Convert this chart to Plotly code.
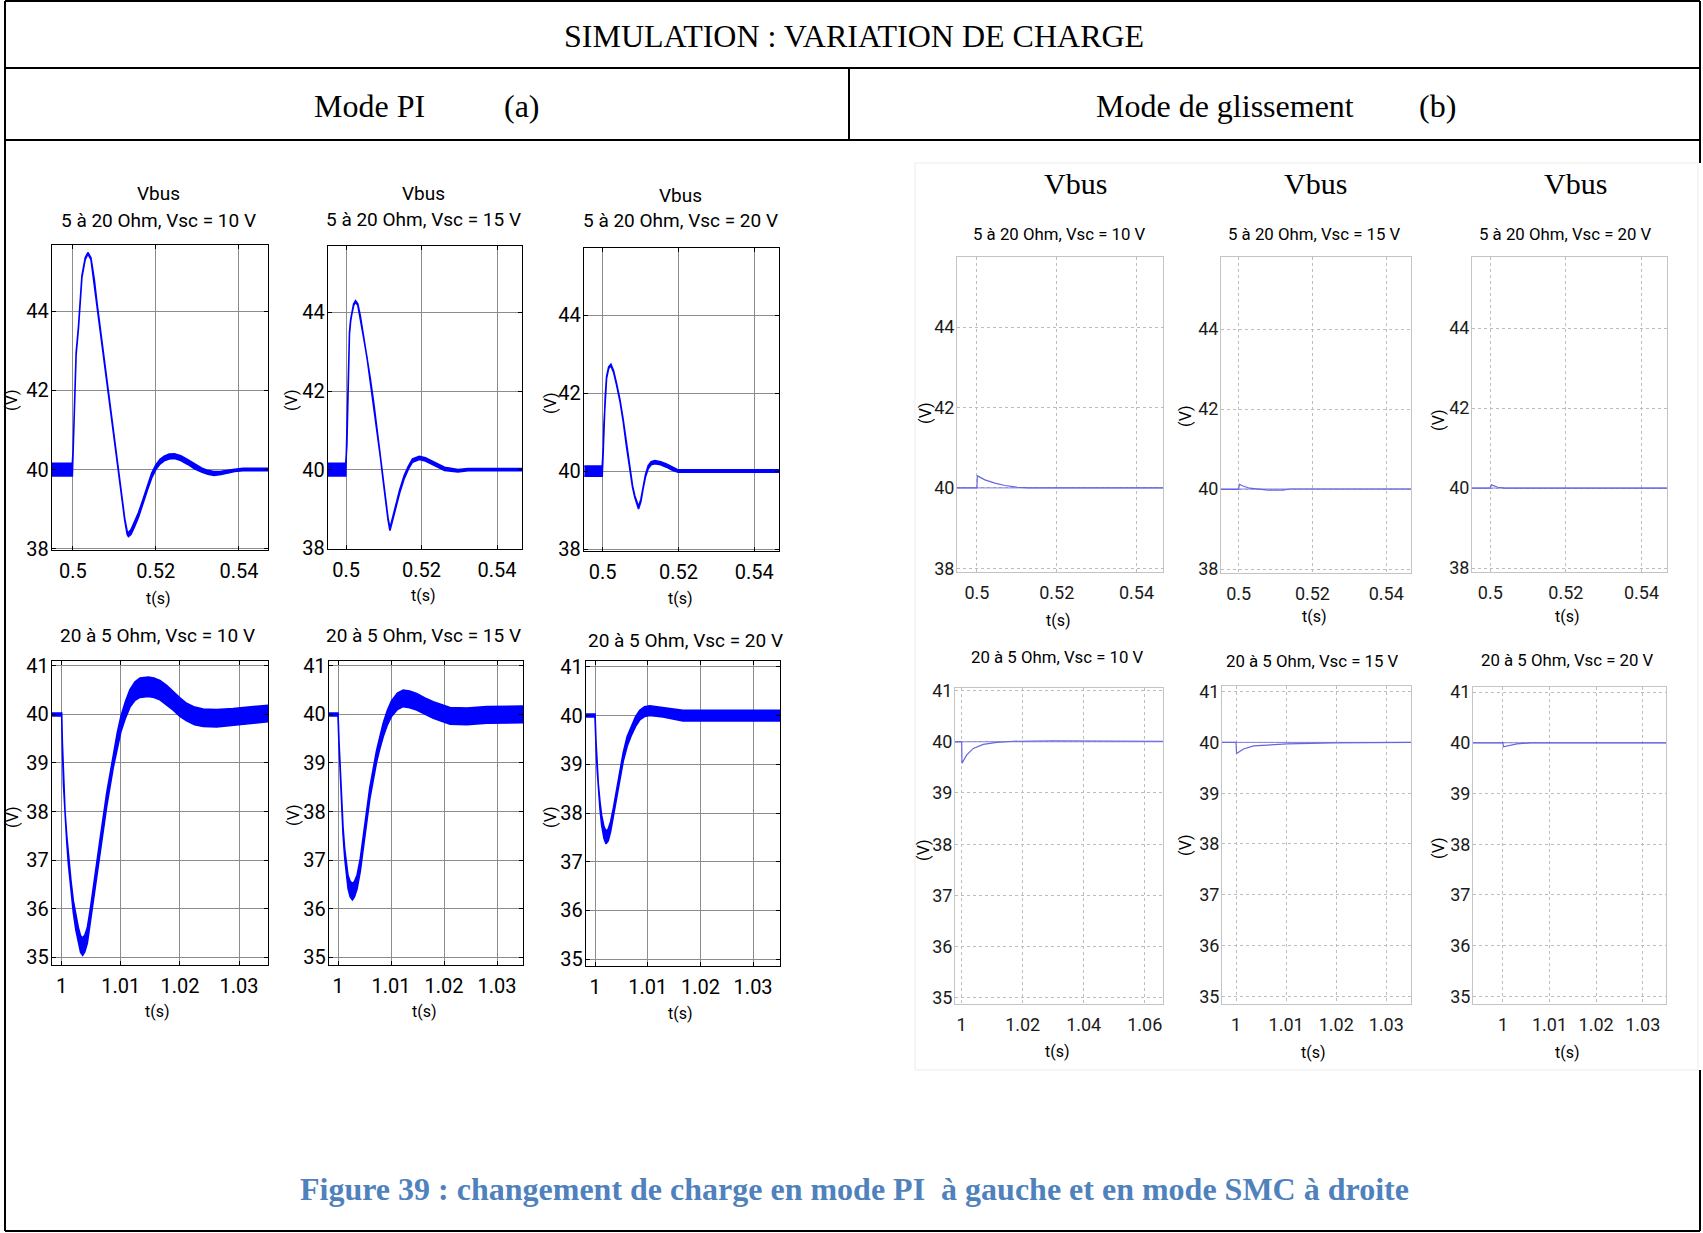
import plotly.graph_objects as go

W, H = 1703, 1233

# ---------------- DATA ----------------
# PI mode, load step 5 -> 20 Ohm (t in s, Vbus centre in V, ripple half-band in V)
pi_a_t10 = [0.495, 0.4999, 0.5001, 0.50032, 0.50081, 0.50138, 0.50178, 0.5022, 0.503, 0.50364, 0.50437,
            0.50518, 0.50583, 0.507, 0.509, 0.511, 0.5125, 0.5131, 0.5134, 0.514, 0.5148, 0.5158,
            0.5168, 0.518, 0.519, 0.52, 0.521, 0.522, 0.5232, 0.5245, 0.526, 0.5277, 0.5293,
            0.531, 0.5325, 0.534, 0.5357, 0.5374, 0.539, 0.541, 0.547]
pi_a_v10 = [40.0, 40.0, 40.5, 41.32, 42.93, 43.6, 44.19, 44.87, 45.33, 45.46, 45.33,
            44.78, 44.19, 43.24, 41.6, 39.99, 38.75, 38.4, 38.36, 38.42, 38.6, 38.85,
            39.15, 39.55, 39.85, 40.06, 40.2, 40.28, 40.33, 40.34, 40.29, 40.19, 40.08,
            39.99, 39.93, 39.9, 39.92, 39.95, 39.98, 40.0, 40.0]
pi_a_w10 = [0.16, 0.16, 0.02, 0.02, 0.02, 0.02, 0.02, 0.02, 0.02, 0.02, 0.02,
            0.02, 0.02, 0.02, 0.02, 0.02, 0.02, 0.04, 0.05, 0.06, 0.06, 0.06,
            0.06, 0.06, 0.06, 0.06, 0.06, 0.06, 0.06, 0.06, 0.06, 0.06, 0.06,
            0.05, 0.05, 0.05, 0.04, 0.04, 0.03, 0.03, 0.03]

pi_a_t15 = [0.4952, 0.4999, 0.5002, 0.50045, 0.50065, 0.50089, 0.5012, 0.50152, 0.502, 0.5025, 0.5031,
            0.50375, 0.5046, 0.50554, 0.5064, 0.50732, 0.5082, 0.50911, 0.5098, 0.51045, 0.5111,
            0.51161, 0.5121, 0.51313, 0.5142, 0.51536, 0.5165, 0.51759, 0.51938, 0.521, 0.5225,
            0.5243, 0.52607, 0.52965, 0.53232, 0.5467]
pi_a_v15 = [40.0, 40.0, 40.6, 41.51, 42.6, 43.47, 43.8, 43.98, 44.2, 44.28, 44.2,
            43.9, 43.4, 42.87, 42.3, 41.68, 41.0, 40.32, 39.75, 39.21, 38.75,
            38.48, 38.65, 39.04, 39.45, 39.8, 40.05, 40.23, 40.3, 40.26, 40.19,
            40.1, 40.02, 39.97, 40.0, 40.0]
pi_a_w15 = [0.16, 0.16, 0.02, 0.02, 0.02, 0.02, 0.02, 0.02, 0.02, 0.02, 0.02,
            0.02, 0.02, 0.02, 0.02, 0.02, 0.02, 0.02, 0.02, 0.02, 0.02,
            0.03, 0.04, 0.04, 0.04, 0.04, 0.04, 0.04, 0.04, 0.04, 0.04,
            0.04, 0.04, 0.03, 0.03, 0.03]

pi_a_t20 = [0.4952, 0.4999, 0.5002, 0.50035, 0.5007, 0.50105, 0.5016, 0.50219, 0.5029, 0.50368,
            0.5046, 0.50544, 0.5063, 0.50719, 0.5079, 0.50851, 0.50947, 0.5101, 0.5107, 0.5113,
            0.51202, 0.5128, 0.51377, 0.5153, 0.51684, 0.5184, 0.51991, 0.5466]
pi_a_v20 = [40.0, 40.0, 40.6, 41.21, 41.9, 42.4, 42.65, 42.72, 42.55, 42.23,
            41.8, 41.29, 40.65, 40.02, 39.6, 39.34, 39.06, 39.25, 39.59, 39.88,
            40.1, 40.2, 40.23, 40.2, 40.14, 40.06, 40.0, 40.0]
pi_a_w20 = [0.13, 0.13, 0.02, 0.02, 0.02, 0.02, 0.02, 0.02, 0.02, 0.02,
            0.02, 0.02, 0.02, 0.02, 0.02, 0.02, 0.03, 0.03, 0.03, 0.03,
            0.04, 0.04, 0.04, 0.04, 0.04, 0.04, 0.03, 0.03]

# PI mode, load step 20 -> 5 Ohm
pi_b_t10 = [0.99836, 1.0, 1.00011, 1.0003, 1.00056, 1.00085, 1.00113, 1.00155, 1.00197, 1.0024,
            1.00282, 1.0032, 1.00355, 1.0039, 1.00434, 1.00485, 1.00535, 1.00648, 1.00761, 1.00873,
            1.0094, 1.01003, 1.0108, 1.01155, 1.0124, 1.01324, 1.01465, 1.0156, 1.01662, 1.01775,
            1.01887, 1.02, 1.02113, 1.0225, 1.02394, 1.0262, 1.02901, 1.0324, 1.0349]
pi_b_v10 = [40.0, 40.0, 39.4, 38.6, 37.96, 37.45, 37.0, 36.5, 36.04, 35.7,
            35.45, 35.27, 35.22, 35.28, 35.45, 35.85, 36.32, 37.28, 38.24, 39.06,
            39.47, 39.81, 40.1, 40.33, 40.48, 40.55, 40.57, 40.55, 40.5, 40.4,
            40.28, 40.15, 40.05, 39.97, 39.93, 39.92, 39.95, 39.99, 40.02]
pi_b_w10 = [0.03, 0.03, 0.03, 0.04, 0.05, 0.06, 0.08, 0.1, 0.12, 0.14,
            0.16, 0.17, 0.18, 0.17, 0.16, 0.15, 0.14, 0.14, 0.14, 0.15,
            0.15, 0.16, 0.17, 0.18, 0.19, 0.2, 0.2, 0.2, 0.2, 0.2,
            0.19, 0.19, 0.18, 0.18, 0.18, 0.18, 0.17, 0.17, 0.17]

pi_b_t15 = [0.9983, 1.0, 1.00019, 1.0004, 1.00063, 1.00095, 1.00126, 1.00158, 1.00189, 1.0023,
            1.00271, 1.0031, 1.0036, 1.0042, 1.00473, 1.00599, 1.00726, 1.0079, 1.00852, 1.0093,
            1.01009, 1.0112, 1.0123, 1.0135, 1.01483, 1.0164, 1.01798, 1.02114, 1.02429, 1.02807,
            1.0349]
pi_b_v15 = [40.0, 40.0, 39.4, 38.8, 38.24, 37.6, 37.14, 36.8, 36.55, 36.4,
            36.35, 36.4, 36.55, 36.9, 37.35, 38.37, 39.13, 39.43, 39.68, 39.93,
            40.12, 40.27, 40.33, 40.31, 40.26, 40.17, 40.09, 39.97, 39.96, 39.99,
            40.0]
pi_b_w15 = [0.03, 0.03, 0.03, 0.04, 0.05, 0.07, 0.09, 0.11, 0.13, 0.16,
            0.17, 0.16, 0.14, 0.13, 0.12, 0.12, 0.12, 0.13, 0.14, 0.15,
            0.16, 0.17, 0.17, 0.17, 0.17, 0.17, 0.17, 0.17, 0.17, 0.17,
            0.17]

pi_b_t20 = [0.99829, 1.0, 1.00019, 1.0004, 1.00063, 1.00095, 1.00126, 1.0017, 1.00208, 1.0025,
            1.00296, 1.0035, 1.00409, 1.00535, 1.0061, 1.00692, 1.0077, 1.00849, 1.0094, 1.01038,
            1.01289, 1.01667, 1.0351]
pi_b_v20 = [40.0, 40.0, 39.43, 38.95, 38.54, 38.15, 37.85, 37.6, 37.5, 37.55,
            37.72, 38.02, 38.4, 39.15, 39.47, 39.7, 39.88, 40.01, 40.08, 40.1,
            40.07, 40.0, 40.0]
pi_b_w20 = [0.03, 0.03, 0.03, 0.04, 0.05, 0.07, 0.1, 0.12, 0.13, 0.12,
            0.1, 0.09, 0.09, 0.09, 0.1, 0.1, 0.1, 0.1, 0.1, 0.1,
            0.1, 0.11, 0.11]

# Sliding mode (SMC)
smc_a_t10 = [0.495, 0.5, 0.5001, 0.502, 0.5045, 0.507, 0.51, 0.513, 0.5467]
smc_a_v10 = [40.0, 40.0, 40.3, 40.2, 40.12, 40.06, 40.02, 40.0, 40.0]
smc_a_t15 = [0.4952, 0.5, 0.5002, 0.501, 0.503, 0.506, 0.508, 0.512, 0.514, 0.5467]
smc_a_v15 = [39.99, 39.99, 40.12, 40.08, 40.02, 40.0, 39.97, 39.97, 40.0, 40.0]
smc_a_t20 = [0.4952, 0.5, 0.5003, 0.502, 0.504, 0.5467]
smc_a_v20 = [40.0, 40.0, 40.08, 40.02, 40.0, 40.0]
smc_b_t10 = [0.9978, 1.0, 1.0001, 1.0016, 1.0038, 1.0071, 1.0115, 1.017, 1.03, 1.066]
smc_b_v10 = [40.0, 40.0, 39.58, 39.74, 39.87, 39.95, 39.99, 40.01, 40.02, 40.01]
smc_b_t15 = [0.9972, 1.0, 1.0001, 1.0015, 1.0035, 1.0062, 1.0102, 1.0195, 1.0349]
smc_b_v15 = [40.0, 40.0, 39.78, 39.87, 39.93, 39.95, 39.97, 39.99, 40.0]
smc_b_t20 = [0.9936, 1.0, 1.0001, 1.001, 1.003, 1.006, 1.035]
smc_b_v20 = [40.0, 40.0, 39.92, 39.94, 39.98, 40.0, 40.0]
vbus_ref = 40.0

# tick labels
ticks_x_a = [0.5, 0.52, 0.54]
ticks_x_b = [1, 1.01, 1.02, 1.03]
ticks_x_b_smc10 = [1, 1.02, 1.04, 1.06]
ticks_y_a = [38, 40, 42, 44]
ticks_y_b = [35, 36, 37, 38, 39, 40, 41]

titles_a = ["5 à 20 Ohm, Vsc = 10 V", "5 à 20 Ohm, Vsc = 15 V", "5 à 20 Ohm, Vsc = 20 V"]
titles_b = ["20 à 5 Ohm, Vsc = 10 V", "20 à 5 Ohm, Vsc = 15 V", "20 à 5 Ohm, Vsc = 20 V"]

# ---------------- LAYOUT HELPERS ----------------
SANS = "Roboto, Liberation Sans, Arial, sans-serif"
SERIF = "Liberation Serif, Times New Roman, serif"


def fx(x):
    return x / W


def fy(y):
    return 1 - y / H


def fmt(v):
    return "%g" % v


fig = go.Figure()
annotations = []
shapes = []

panels = [
    ("pi", (52, 268, 245, 550), [0.4950, 0.5470], [37.97, 45.67], ticks_x_a, ticks_y_a, (pi_a_t10, pi_a_v10, pi_a_w10)),
    ("pi", (328, 522, 246, 549), [0.4952, 0.5466], [37.98, 45.69], ticks_x_a, ticks_y_a, (pi_a_t15, pi_a_v15, pi_a_w15)),
    ("pi", (584, 779, 248, 551), [0.4951, 0.5465], [37.95, 45.72], ticks_x_a, ticks_y_a, (pi_a_t20, pi_a_v20, pi_a_w20)),
    ("pi", (52, 268, 661, 965), [0.99836, 1.0349], [34.84, 41.1], ticks_x_b, ticks_y_b, (pi_b_t10, pi_b_v10, pi_b_w10)),
    ("pi", (329, 523, 661, 965), [0.9983, 1.0349], [34.84, 41.1], ticks_x_b, ticks_y_b, (pi_b_t15, pi_b_v15, pi_b_w15)),
    ("pi", (586, 780, 661, 966), [0.99829, 1.0351], [34.86, 41.12], ticks_x_b, ticks_y_b, (pi_b_t20, pi_b_v20, pi_b_w20)),
    ("smc", (957, 1163, 257, 572), [0.495, 0.54665], [37.91, 45.74], ticks_x_a, ticks_y_a, (smc_a_t10, smc_a_v10)),
    ("smc", (1221, 1411, 257, 573), [0.49523, 0.5467], [37.9, 45.8], ticks_x_a, ticks_y_a, (smc_a_t15, smc_a_v15)),
    ("smc", (1472, 1667, 257, 572), [0.49517, 0.54675], [37.9, 45.78], ticks_x_a, ticks_y_a, (smc_a_t20, smc_a_v20)),
    ("smc", (955, 1163, 688, 1004), [0.99781, 1.066], [34.88, 41.05], ticks_x_b_smc10, ticks_y_b, (smc_b_t10, smc_b_v10)),
    ("smc", (1222, 1411, 686, 1004), [0.9972, 1.03493], [34.85, 41.11], ticks_x_b, ticks_y_b, (smc_b_t15, smc_b_v15)),
    ("smc", (1473, 1666, 687, 1004), [0.99357, 1.035], [34.85, 41.1], ticks_x_b, ticks_y_b, (smc_b_t20, smc_b_v20)),
]

layout_axes = {}
for i, (kind, box, xr, yr, xt, yt, data) in enumerate(panels, start=1):
    l, r, t, b = box
    xname = "x" if i == 1 else f"x{i}"
    yname = "y" if i == 1 else f"y{i}"
    xkey = "xaxis" if i == 1 else f"xaxis{i}"
    ykey = "yaxis" if i == 1 else f"yaxis{i}"
    if kind == "pi":
        common = dict(showline=True, linecolor="black", linewidth=1.3, mirror="allticks",
                      ticks="inside", ticklen=4, tickcolor="black", tickwidth=1,
                      showgrid=True, gridcolor="#8c8c8c", gridwidth=1, zeroline=False,
                      tickfont=dict(family=SANS, size=20, color="black"), fixedrange=True,
                      automargin=False)
        tv, tvv, tw = data
        upper = [v + w for v, w in zip(tvv, tw)]
        lower = [v - w for v, w in zip(tvv, tw)]
        fig.add_trace(go.Scatter(x=list(tv) + list(tv)[::-1], y=upper + lower[::-1],
                                 mode="lines", fill="toself", fillcolor="#0000ff",
                                 line=dict(color="#0000ff", width=1.6),
                                 xaxis=xname, yaxis=yname, showlegend=False, hoverinfo="skip"))
        xstand, ystand = 3, -2
    else:
        common = dict(showline=True, linecolor="#c4c4c4", linewidth=1, mirror=True,
                      ticks="", showgrid=True, gridcolor="#bdbdbd", gridwidth=1, griddash="dot",
                      zeroline=False,
                      tickfont=dict(family=SANS, size=18, color="#1a1a1a"), fixedrange=True,
                      automargin=False)
        tv, tvv = data
        fig.add_trace(go.Scatter(x=[xr[0], xr[1]], y=[vbus_ref, vbus_ref], mode="lines",
                                 line=dict(color="#8080e8", width=1),
                                 xaxis=xname, yaxis=yname, showlegend=False, hoverinfo="skip"))
        fig.add_trace(go.Scatter(x=tv, y=tvv, mode="lines",
                                 line=dict(color="#6666e0", width=1.2),
                                 xaxis=xname, yaxis=yname, showlegend=False, hoverinfo="skip"))
        xstand, ystand = 4, -2
    layout_axes[xkey] = dict(common, domain=[fx(l), fx(r)], range=xr, tickvals=xt,
                             ticktext=[fmt(v) for v in xt], anchor=yname, ticklabelstandoff=xstand)
    layout_axes[ykey] = dict(common, domain=[fy(b), fy(t)], range=yr, tickvals=yt,
                             ticktext=[fmt(v) for v in yt], anchor=xname, ticklabelstandoff=ystand)


def text(x, y, s, size, family=SANS, color="black", angle=0, bold=False):
    if bold:
        s = "<b>" + s + "</b>"
    annotations.append(dict(x=fx(x), y=fy(y), xref="paper", yref="paper", text=s, showarrow=False,
                            xanchor="center", yanchor="middle", textangle=angle,
                            font=dict(family=family, size=size, color=color)))


# PI titles
for (cx, vy, sy), s in zip([(158, 193, 220), (423, 193, 219), (680, 195, 220)], titles_a):
    text(cx, vy, "Vbus", 19)
    text(cx, sy, s, 19)
for (cx, sy), s in zip([(157, 635), (423, 635), (685, 640)], titles_b):
    text(cx, sy, s, 19)
for cx, cy in [(158, 598), (423, 596), (680, 598), (157, 1011), (424, 1011), (680, 1013)]:
    text(cx, cy, "t(s)", 16)
for cx, cy in [(12, 400), (292, 400), (550, 403), (12, 817), (293, 815), (550, 817)]:
    text(cx, cy, "(V)", 16, angle=-90)

# SMC titles
for cx in [1075, 1315, 1575]:
    text(cx, 184, "Vbus", 30, family=SERIF)
for (cx, sy), s in zip([(1059, 234), (1314, 234), (1565, 234)], titles_a):
    text(cx, sy, s, 16.8)
for (cx, sy), s in zip([(1057, 657), (1312, 661), (1567, 660)], titles_b):
    text(cx, sy, s, 16.8)
for cx, cy in [(1058, 620), (1314, 616), (1567, 616), (1057, 1051), (1313, 1052), (1567, 1052)]:
    text(cx, cy, "t(s)", 16)
for cx, cy in [(925, 413), (1185, 416), (1438, 420), (923, 850), (1185, 845), (1438, 848)]:
    text(cx, cy, "(V)", 16, angle=-90)

# Header + caption
text(854, 36, "SIMULATION : VARIATION DE CHARGE", 32, family=SERIF)
text(369, 106, "Mode PI", 32, family=SERIF)
text(522, 106, "(a)", 32, family=SERIF)
text(1225, 106, "Mode de glissement", 32, family=SERIF)
text(1437, 106, "(b)", 32, family=SERIF)
text(854, 1189, "Figure 39 : changement de charge en mode PI  à gauche et en mode SMC à droite", 32,
     family=SERIF, color="#4f81bd", bold=True)


def line(x0, y0, x1, y1, color="black", width=2):
    shapes.append(dict(type="line", xref="paper", yref="paper", x0=fx(x0), y0=fy(y0), x1=fx(x1), y1=fy(y1),
                       line=dict(color=color, width=width), layer="above"))


# SMC image faint frame
shapes.append(dict(type="rect", xref="paper", yref="paper", x0=fx(915), y0=fy(1070), x1=fx(1698), y1=fy(163),
                   line=dict(color="#ececec", width=1), fillcolor="rgba(0,0,0,0)", layer="below"))

# table frame
line(5, 1, 1700, 1)
line(5, 68, 1700, 68)
line(5, 140, 1700, 140)
line(849, 68, 849, 140)
line(5, 1, 5, 1231)
line(5, 1231, 1700, 1231)
line(1700, 1, 1700, 163)
line(1700, 1070, 1700, 1231)

fig.update_layout(width=W, height=H, autosize=False,
                  margin=dict(l=0, r=0, t=0, b=0, pad=0, autoexpand=False),
                  paper_bgcolor="white", plot_bgcolor="white",
                  annotations=annotations, shapes=shapes, **layout_axes)

fig.write_html("out.html", config={"displayModeBar": False},
               post_script="document.body.style.margin='0px';document.body.style.padding='0px';"
                           "document.documentElement.style.overflow='hidden';"
                           "var gd=document.getElementsByClassName('plotly-graph-div')[0];"
                           "gd.style.position='fixed';gd.style.top='0px';gd.style.left='0px';")
